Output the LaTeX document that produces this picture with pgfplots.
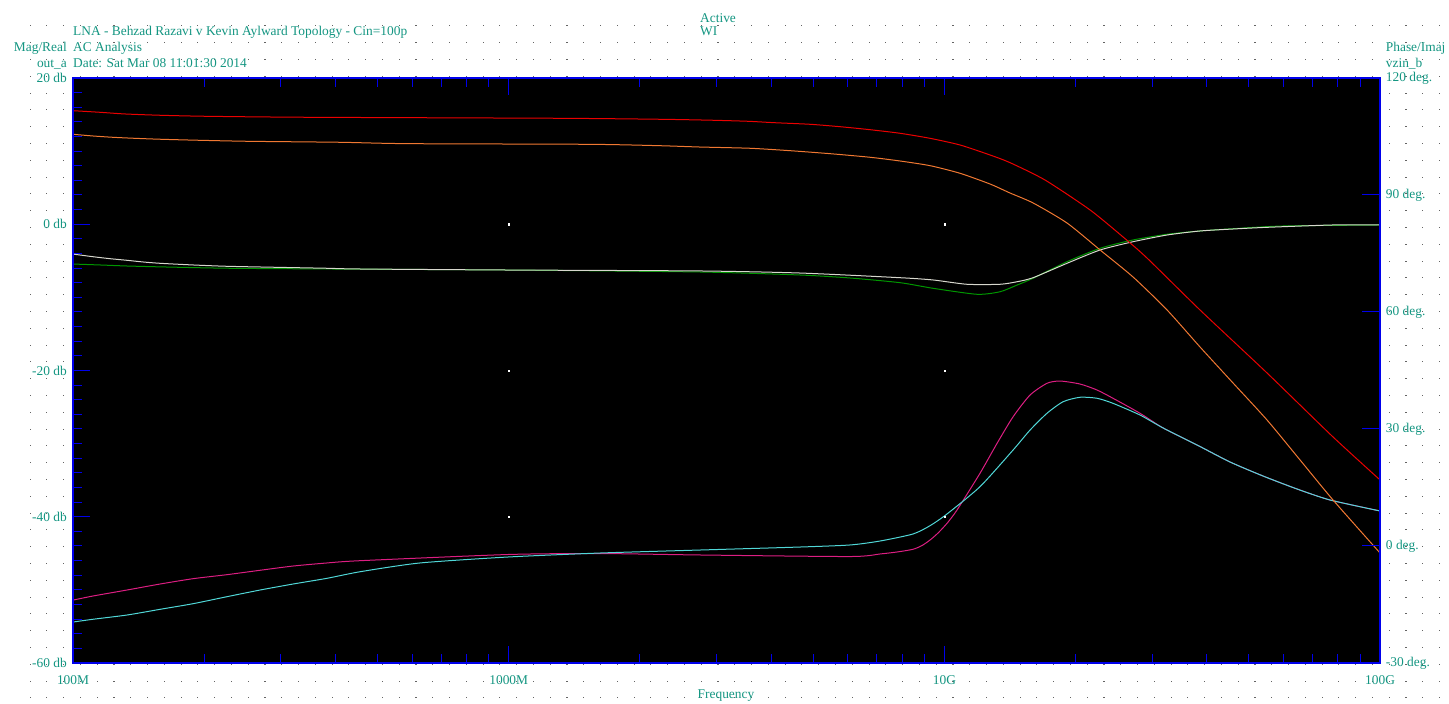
\documentclass[border=0pt]{standalone}
\usepackage{pgfplots}
\pgfplotsset{compat=1.18}
\usepackage{fontspec}
\setmainfont{Liberation Serif}
\definecolor{txt}{RGB}{20,150,130}
\definecolor{dotc}{RGB}{100,100,100}
\definecolor{axblue}{RGB}{0,0,235}
\definecolor{cred}{RGB}{235,0,0}
\definecolor{corange}{RGB}{240,120,50}
\definecolor{cwhite}{RGB}{215,215,205}
\definecolor{cgreen}{RGB}{0,150,0}
\definecolor{cpink}{RGB}{220,30,130}
\definecolor{ccyan}{RGB}{80,215,215}
\newcommand{\tf}{\fontsize{13.4}{15}\selectfont}
\begin{document}
\begin{tikzpicture}[x=1pt,y=1pt,font=\tf]
\useasboundingbox (0,0) rectangle (1449,704);
\fill[white] (0,0) rectangle (1449,704);
\foreach \i in {0,...,84}{\foreach \j in {0,...,40}{\fill[dotc] ({29.5+\i*16.78},{704-26.5-\j*16.8}) rectangle +(1.1,1.1);}}
% texts
\node[anchor=base west,inner sep=0,txt] at (73,668) {LNA - Behzad Razavi v Kevin Aylward Topology - Cin=100p};
\node[anchor=base west,inner sep=0,txt] at (73,652) {AC Analysis};
\node[anchor=base west,inner sep=0,txt] at (73,636) {Date: Sat Mar 08 11:01:30 2014};
\node[anchor=base east,inner sep=0,txt] at (67,652) {Mag/Real};
\node[anchor=base east,inner sep=0,txt] at (67,636) {out\_a};
\node[anchor=base west,inner sep=0,txt] at (700,681.3) {Active};
\node[anchor=base west,inner sep=0,txt] at (700,668) {WI};
\node[anchor=base west,inner sep=0,txt] at (1385.7,652) {Phase/Imaj};
\node[anchor=base west,inner sep=0,txt] at (1385.7,636) {vzin\_b};
\node[anchor=base,inner sep=0,txt] at (726,5) {Frequency};
\begin{axis}[
  at={(73pt,41pt)}, anchor=south west,
  scale only axis, width=1307pt, height=585pt,
  xmode=log, xmin=1e8, xmax=1e11,
  ymin=-60, ymax=20,
  axis background/.style={fill=black},
  axis line style={axblue, line width=1.2pt},
  tick align=inside,
  major tick length=17pt, minor tick length=9pt,
  every tick/.style={axblue, line width=1pt},
  xtick={1e8,1e9,1e10,1e11},
  xticklabels={100M,1000M,10G,100G},
  xtick pos=both,
  ytick={-60,-40,-20,0,20},
  yticklabels={-60 db,-40 db,-20 db,0 db,20 db},
  minor y tick num=9,
  ytick pos=left,
  tick label style={font=\tf, text=txt, inner sep=0pt},
  xticklabel style={yshift=-12pt},
  yticklabel style={xshift=-6pt},
  clip=true,
]
\addplot[only marks, mark=square*, mark size=0.55pt, white] coordinates {(1e9,0) (1e10,0) (1e9,-20) (1e10,-20) (1e9,-40) (1e10,-40)};
% green
\addplot[cgreen, line width=1pt, smooth, tension=0.4] coordinates {(1e8,-5.44) (1.153e8,-5.57) (1.330e8,-5.71) (1.644e8,-5.85) (2.293e8,-6.02) (3.931e8,-6.12) (1e9,-6.26) (2.749e9,-6.53) (4.663e9,-6.94) (6.074e9,-7.35) (7.912e9,-7.99) (9.419e9,-8.76) (1.189e10,-9.58) (1.342e10,-9.23) (1.469e10,-8.31) (1.598e10,-7.39) (1.912e10,-5.12) (2.277e10,-3.29) (2.710e10,-2.15) (3.245e10,-1.37) (3.863e10,-0.92) (4.598e10,-0.61) (5.988e10,-0.24) (1e11,-0.10)};
% white
\addplot[cwhite, line width=1pt, smooth, tension=0.4] coordinates {(1e8,-4.08) (1.111e8,-4.44) (1.216e8,-4.71) (1.330e8,-4.93) (1.448e8,-5.16) (1.584e8,-5.34) (1.886e8,-5.57) (2.257e8,-5.75) (2.939e8,-5.89) (3.828e8,-6.02) (4.558e8,-6.12) (1e9,-6.26) (2.749e9,-6.39) (4.663e9,-6.67) (7.912e9,-7.31) (9.419e9,-7.62) (1.127e10,-8.21) (1.342e10,-8.21) (1.469e10,-7.86) (1.598e10,-7.31) (1.912e10,-5.34) (2.277e10,-3.52) (2.710e10,-2.39) (3.245e10,-1.47) (3.863e10,-0.92) (4.598e10,-0.65) (5.503e10,-0.42) (7.800e10,-0.10) (1e11,-0.10)};
% pink
\addplot[cpink, line width=1pt, smooth, tension=0.4] coordinates {(1e8,-51.4) (1.111e8,-50.84) (1.330e8,-50.02) (1.584e8,-49.20) (1.886e8,-48.47) (2.257e8,-47.92) (2.687e8,-47.32) (3.199e8,-46.74) (3.828e8,-46.32) (4.558e8,-46.01) (1e9,-45.16) (1.620e9,-45.03) (2.749e9,-45.23) (6.074e9,-45.44) (7.117e9,-45.09) (7.786e9,-44.82) (8.472e9,-44.45) (8.887e9,-43.93) (9.271e9,-43.18) (9.672e9,-42.22) (1.014e10,-40.90) (1.069e10,-39.08) (1.207e10,-34.06) (1.321e10,-29.96) (1.438e10,-26.32) (1.573e10,-23.35) (1.720e10,-21.75) (1.843e10,-21.44) (2.048e10,-21.85) (2.241e10,-22.67) (2.438e10,-23.80) (2.812e10,-25.85) (3.177e10,-27.86) (3.802e10,-30.19) (4.525e10,-32.51) (5.388e10,-34.43) (6.451e10,-36.21) (7.678e10,-37.71) (1e11,-39.21)};
% cyan
\addplot[ccyan, line width=1pt, smooth, tension=0.4] coordinates {(1e8,-54.4) (1.111e8,-54.02) (1.330e8,-53.44) (1.584e8,-52.66) (1.886e8,-51.89) (2.257e8,-50.93) (2.687e8,-50.02) (3.199e8,-49.20) (3.828e8,-48.42) (4.558e8,-47.52) (6.26e8,-46.32) (1e9,-45.50) (1.620e9,-44.96) (2.749e9,-44.55) (4.663e9,-44.14) (6.074e9,-43.86) (7.117e9,-43.32) (8.472e9,-42.36) (9.271e9,-41.22) (1.014e10,-39.62) (1.207e10,-35.89) (1.438e10,-30.87) (1.573e10,-28.14) (1.720e10,-25.85) (1.873e10,-24.27) (2.048e10,-23.66) (2.241e10,-23.80) (2.438e10,-24.49) (2.812e10,-26.09) (3.177e10,-27.86) (3.802e10,-30.19) (4.525e10,-32.51) (5.388e10,-34.43) (6.451e10,-36.21) (7.678e10,-37.71) (1e11,-39.21)};
% orange
\addplot[corange, line width=1pt, smooth, tension=0.4] coordinates {(1e8,12.30) (1.111e8,12.07) (1.235e8,11.89) (1.388e8,11.75) (1.592e8,11.62) (1.956e8,11.48) (2.548e8,11.34) (4.101e8,11.21) (5.874e8,11.02) (1.537e9,10.93) (2.225e9,10.74) (2.749e9,10.56) (3.581e9,10.39) (4.423e9,10.06) (5.465e9,9.65) (6.751e9,9.16) (7.912e9,8.65) (9.271e9,8.01) (1.086e10,6.97) (1.273e10,5.50) (1.415e10,4.27) (1.598e10,2.91) (1.912e10,0.17) (2.277e10,-3.52) (2.710e10,-7.21) (3.245e10,-11.73) (3.863e10,-16.79) (4.598e10,-21.71) (5.503e10,-26.77) (6.553e10,-32.24) (7.800e10,-37.71) (1e11,-44.96)};
% red
\addplot[cred, line width=1pt, smooth, tension=0.4] coordinates {(1e8,15.53) (1.153e8,15.31) (1.316e8,15.08) (1.592e8,14.90) (2.041e8,14.76) (3.425e8,14.63) (1.312e9,14.49) (2.261e9,14.35) (2.944e9,14.22) (3.543e9,14.08) (4.064e9,13.89) (4.916e9,13.67) (5.761e9,13.34) (6.751e9,12.93) (7.912e9,12.44) (9.271e9,11.75) (1.086e10,10.84) (1.273e10,9.47) (1.415e10,8.42) (1.702e10,6.05) (2.160e10,1.95) (2.571e10,-1.74) (2.918e10,-4.62) (3.863e10,-11.73) (5.503e10,-20.34) (7.800e10,-29.09) (1e11,-34.97)};
\end{axis}
\begin{axis}[
  at={(73pt,41pt)}, anchor=south west,
  scale only axis, width=1307pt, height=585pt,
  xmode=log, xmin=1e8, xmax=1e11,
  ymin=-30, ymax=120,
  axis line style={axblue, line width=1.2pt},
  tick align=inside,
  major tick length=18pt,
  every tick/.style={axblue, line width=1pt},
  xtick=\empty, minor xtick={},
  ytick={-30,0,30,60,90,120},
  yticklabels={-30 deg.,0 deg.,30 deg.,60 deg.,90 deg.,120 deg.},
  ytick pos=right,
  yticklabel pos=right,
  tick label style={font=\tf, text=txt, inner sep=0pt},
  yticklabel style={xshift=5.7pt},
]
\addplot[draw=none] coordinates {(1e9,0)};
\end{axis}
\end{tikzpicture}
\end{document}
